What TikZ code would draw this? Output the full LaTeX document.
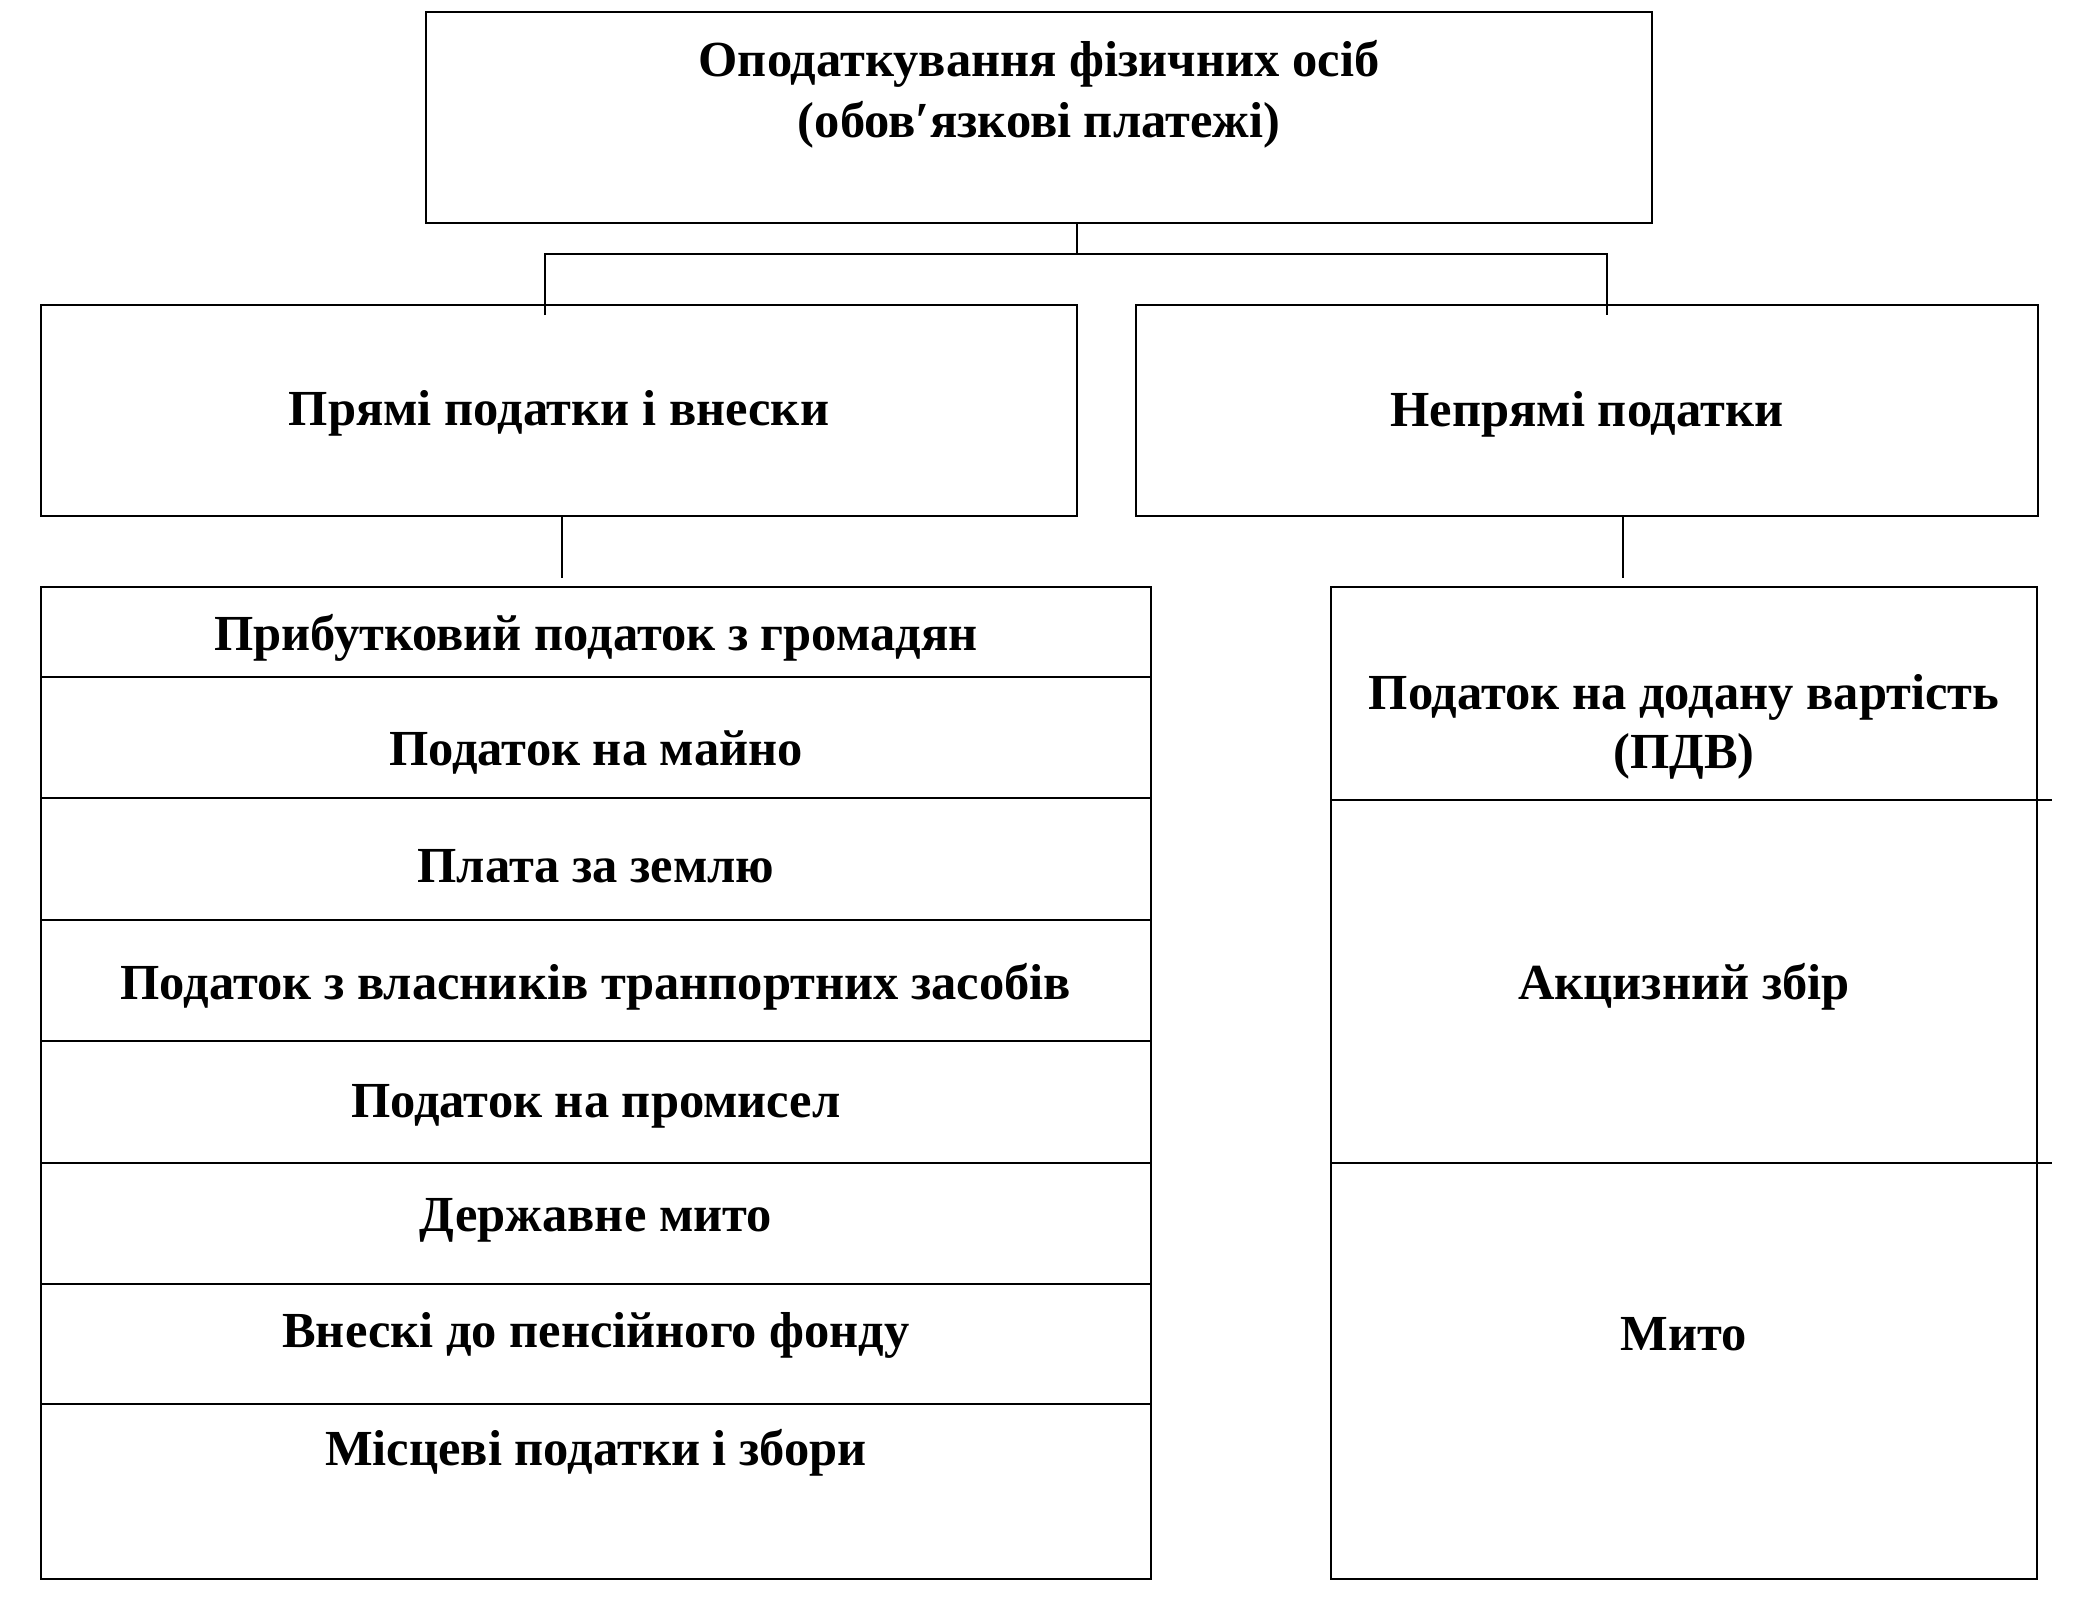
\documentclass[tikz,border=0pt]{standalone}
\usepackage{fontspec}
\setmainfont{Liberation Serif}
\begin{document}
\begin{tikzpicture}[x=1pt,y=-1pt,
  box/.style={draw, line width=2.5pt, inner sep=0pt, outer sep=0pt, anchor=north west},
  lbl/.style={anchor=base, font=\fontsize{50.5}{58}\selectfont\bfseries, inner sep=0pt},
  conn/.style={line width=2pt}]
\useasboundingbox[fill=white] (0,0) rectangle (2093,1599);
% top
\node[box, minimum width=1226pt, minimum height=211pt] (top) at (426,12) {};
\node[lbl] (t1) at (1039,76) {Оподаткування фізичних осіб};
\node[lbl] (t2) at (1039,137) {(обов′язкові платежі)};
% level 2
\node[box, minimum width=1036pt, minimum height=211pt] (left) at (41,305) {};
\node[box, minimum width=902pt, minimum height=211pt] (right) at (1136,305) {};
\node[lbl] (lt) at (559,425) {Прямі податки і внески};
\node[lbl] (rt) at (1587,426) {Непрямі податки};
% left list
\node[box, minimum width=1110pt, minimum height=90pt] (l1) at (41,587) {};
\node[box, minimum width=1110pt, minimum height=121pt] (l2) at (41,677) {};
\node[box, minimum width=1110pt, minimum height=122pt] (l3) at (41,798) {};
\node[box, minimum width=1110pt, minimum height=121pt] (l4) at (41,920) {};
\node[box, minimum width=1110pt, minimum height=122pt] (l5) at (41,1041) {};
\node[box, minimum width=1110pt, minimum height=121pt] (l6) at (41,1163) {};
\node[box, minimum width=1110pt, minimum height=120pt] (l7) at (41,1284) {};
\node[box, minimum width=1110pt, minimum height=175pt] (l8) at (41,1404) {};
\node[lbl] (lx1) at (596,650) {Прибутковий податок з громадян};
\node[lbl] (lx2) at (596,765) {Податок на майно};
\node[lbl] (lx3) at (596,882) {Плата за землю};
\node[lbl] (lx4) at (596,999) {Податок з власників транпортних засобів};
\node[lbl] (lx5) at (596,1117) {Податок на промисел};
\node[lbl] (lx6) at (596,1231) {Державне мито};
\node[lbl] (lx7) at (596,1347) {Внескі до пенсійного фонду};
\node[lbl] (lx8) at (596,1465) {Місцеві податки і збори};
% right list
\node[box, minimum width=706pt, minimum height=213pt] (r1) at (1331,587) {};
\node[box, minimum width=706pt, minimum height=363pt] (r2) at (1331,800) {};
\node[box, minimum width=706pt, minimum height=416pt] (r3) at (1331,1163) {};
\node[lbl] (rx1a) at (1684,709) {Податок на додану вартість};
\node[lbl] (rx1b) at (1684,768) {(ПДВ)};
\node[lbl] (rx2) at (1684,999) {Акцизний збір};
\node[lbl] (rx3) at (1684,1350) {Мито};
\draw[line width=2.5pt] (r1.south east) -- ++(15,0);
\draw[line width=2.5pt] (r2.south east) -- ++(15,0);
% connectors
\coordinate (tj) at (1077,254);
\coordinate (lj) at (545,315);
\coordinate (rj) at (1607,315);
\draw[conn] (top.south -| tj) -- (tj);
\draw[conn] (lj) |- (tj) -| (rj);
\coordinate (lc) at (562,578);
\coordinate (rc) at (1623,578);
\draw[conn] (left.south -| lc) -- (lc);
\draw[conn] (right.south -| rc) -- (rc);
\end{tikzpicture}
\end{document}
